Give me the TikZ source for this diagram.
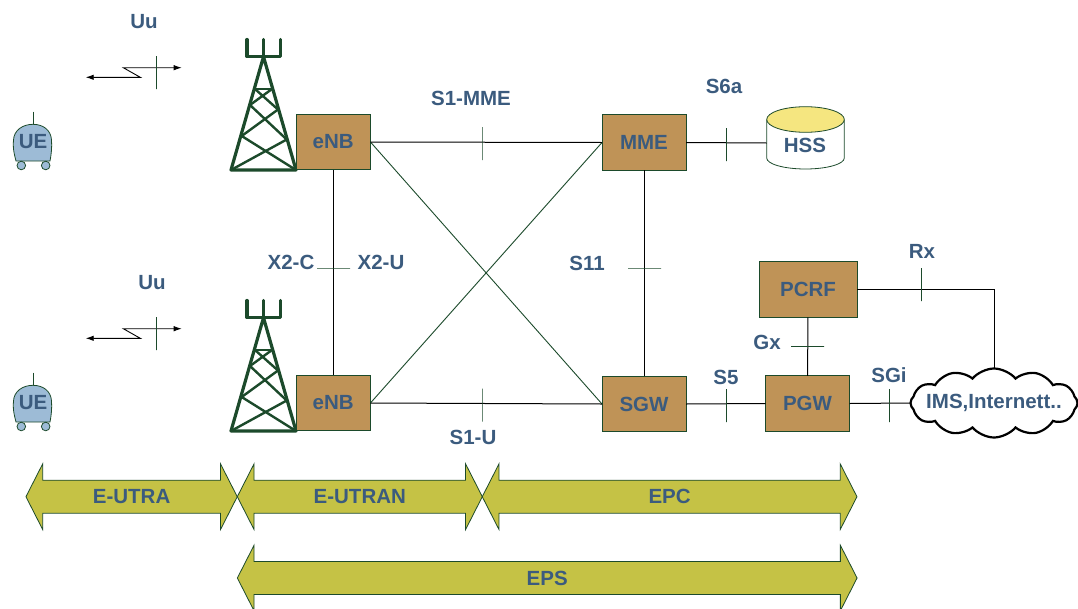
\documentclass[tikz,border=0pt]{standalone}
\usepackage{fontspec}
\setmainfont{Liberation Sans}
\usepackage{tikz}
\usetikzlibrary{arrows.meta,shapes.symbols,shapes.arrows}
\definecolor{lbltext}{HTML}{3B5B7E}
\definecolor{boxfill}{HTML}{BF9357}
\definecolor{edgegreen}{HTML}{1C4A2B}
\definecolor{bandfill}{HTML}{C5C245}
\definecolor{uefill}{HTML}{9DBBD6}
\definecolor{hsstop}{HTML}{F5E680}
\begin{document}
\begin{tikzpicture}[x=1pt,y=-1pt,>={Latex[length=8pt,width=5.5pt]},
 lbl/.style={font=\fontsize{20.5}{24}\selectfont\bfseries,text=lbltext,inner sep=0pt},
 box/.style={draw=edgegreen,line width=0.9pt,fill=boxfill,minimum height=55.5pt,inner sep=0pt,outer sep=0pt,font=\fontsize{20.5}{24}\selectfont\bfseries,text=lbltext},
 link/.style={draw=black,line width=1pt},
 xlink/.style={draw=edgegreen,line width=0.9pt},
 vtick/.style={draw=edgegreen,line width=0.7pt,minimum width=0pt,minimum height=33pt,inner sep=0pt,outer sep=0pt},
 htick/.style={draw=edgegreen,line width=0.7pt,minimum width=33pt,minimum height=0pt,inner sep=0pt,outer sep=0pt},
 band/.style={double arrow,draw=edgegreen,line width=0.8pt,fill=bandfill,double arrow head extend=16.3pt,double arrow tip angle=126,inner xsep=0pt,inner ysep=0pt,outer sep=0pt,minimum width=65pt,text height=23.2pt,text depth=9pt,font=\fontsize{20.5}{24}\selectfont\bfseries,text=lbltext},
 mast/.style={draw=edgegreen,line width=3.2pt,line cap=round,line join=round},
 lattice/.style={draw=edgegreen,line width=2.4pt,line cap=round}]
\useasboundingbox (0,0) rectangle (1078,608);
% radio side, the second row sits 261 lower
\foreach \n/\yoff/\uux in {1/0/144,2/261/152} {
\begin{scope}[shift={(0,\yoff)}]
\draw[mast] (247,39.5) -- (247,56.7) -- (280.7,56.7) -- (280.7,39.5);
\draw[mast] (263.5,39.5) -- (263.5,56.7);
\draw[mast] (263.5,56.7) -- (231,170) -- (296,170) -- cycle;
\draw[lattice] (255,89) -- (272,89);
\draw[lattice] (255,89) -- (278,109.5) (272,89) -- (250,105);
\draw[lattice] (250,105) -- (286.7,139.5) (278,109.5) -- (241.7,136);
\draw[lattice] (241.7,136) -- (296,170) (286.7,139.5) -- (231,170);
\draw[edgegreen,line width=0.8pt] (33,111.5) -- (33,125);
\draw[edgegreen,line width=0.8pt,fill=uefill] (16,161) .. controls (13,150) and (13,145) .. (13.5,140) .. controls (14,130) and (23,124.3) .. (33,124.3) .. controls (43,124.3) and (51,130) .. (51.5,140) .. controls (52,147) and (51.5,153) .. (50,161) -- cycle;
\draw[edgegreen,line width=0.8pt,fill=uefill] (21.3,165.5) circle (4.3) (45.7,165.5) circle (4.3);
\node[lbl] (ue\n) at (33,142) {UE};
\node[lbl] (uu\n) at (\uux,22) {Uu};
\coordinate (rl\n) at (85.7,77.3);
\coordinate (rm\n) at (140.3,77.3);
\coordinate (rk\n) at (123.3,67.7);
\coordinate (rr\n) at (181.7,67.7);
\draw[<->,black,line width=0.9pt] (rl\n) -- (rm\n) -- (rk\n) -- (rr\n);
\node[vtick] (tuu\n) at (156.3,72.5) {};
\end{scope}
}
% network boxes
\node[box,minimum width=74.5pt] (enba) at (333.2,142) {eNB};
\node[box,minimum width=74.5pt] (enbb) at (333.2,403) {eNB};
\node[box,minimum width=84pt] (mme) at (644,142.5) {MME};
\node[box,minimum width=84pt] (sgw) at (644,404) {SGW};
\node[box,minimum width=84pt] (pgw) at (807.5,403.5) {PGW};
\node[box,minimum width=98pt] (pcrf) at (808,289.5) {PCRF};
\draw[edgegreen,line width=0.8pt,fill=white] (766.7,119.5) -- (766.7,158) arc[start angle=180,end angle=360,x radius=38.8,y radius=-11] -- (844.3,119.5);
\draw[edgegreen,line width=0.8pt,fill=hsstop] (805.5,119.5) circle[x radius=38.8,y radius=12.8];
\coordinate (hssw) at (766.7,143);
\node[lbl] (hss) at (805,145) {HSS};
\node[cloud,draw=black,fill=white,line width=2.2pt,cloud puffs=12,cloud puff arc=100,aspect=2.4,minimum width=167pt,minimum height=69pt,inner sep=0pt,outer sep=0pt] (net) at (994,403) {};
\node[lbl] (nettxt) at (994,403) {IMS,Internett..};
% interfaces
\draw[xlink] (enba.east) -- (sgw.west);
\draw[xlink] (enbb.east) -- (mme.west);
\draw[link] (enba.east) -- (mme.west);
\draw[link] (enbb.east) -- (sgw.west);
\draw[link] (enba) -- (enbb);
\draw[link] (mme) -- (sgw);
\draw[link] (mme.east) -- (hssw);
\draw[link] (sgw.east) -- (pgw.west);
\draw[link] (pgw.east) -- (net.west);
\draw[link] (pcrf) -- (pgw);
\draw[link] (pcrf.east) -| (net.north);
\node[vtick] (ts1mme) at (482,143.5) {};
\node[vtick] (ts6a) at (726,144.5) {};
\node[vtick] (ts1u) at (482,405) {};
\node[vtick] (ts5) at (726,405.5) {};
\node[vtick] (tsgi) at (889,405.5) {};
\node[vtick] (trx) at (921.7,284.5) {};
\node[htick] (tx2) at (333.5,268) {};
\node[htick] (ts11) at (644.5,268) {};
\node[htick] (tgx) at (807.5,346.7) {};
\node[lbl] (ls1mme) at (471,98) {S1-MME};
\node[lbl] (ls6a) at (724,86) {S6a};
\node[lbl] (lx2c) at (291,262) {X2-C};
\node[lbl] (lx2u) at (381,262) {X2-U};
\node[lbl] (ls11) at (587,263) {S11};
\node[lbl] (lrx) at (922,251) {Rx};
\node[lbl] (lgx) at (767,342) {Gx};
\node[lbl] (ls5) at (726,377) {S5};
\node[lbl] (lsgi) at (889,375) {SGi};
\node[lbl] (ls1u) at (473,437) {S1-U};
% domains
\node[band,minimum height=211.3pt] (eutra) at (131.6,496.7) {E-UTRA};
\node[band,minimum height=245pt] (eutran) at (359.8,496.7) {E-UTRAN};
\node[band,minimum height=374.7pt] (epc) at (669.6,496.7) {EPC};
\node[band,minimum height=619.7pt] (eps) at (547.2,578) {EPS};
\end{tikzpicture}
\end{document}
